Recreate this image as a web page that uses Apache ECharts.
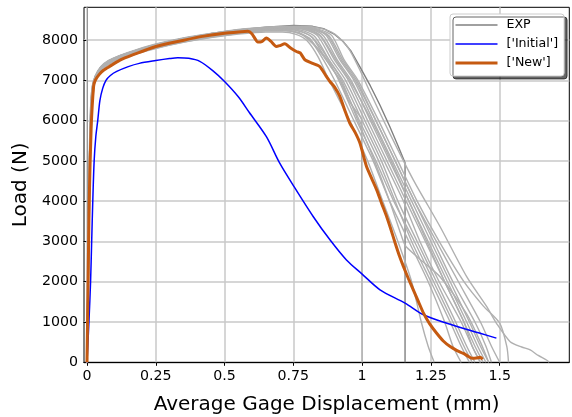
<!DOCTYPE html>
<html><head><meta charset="utf-8">
<script src="https://cdn.jsdelivr.net/npm/echarts@6/dist/echarts.min.js"></script>
<style>html,body{margin:0;padding:0;background:#fff}#c{width:572px;height:417px}</style>
</head><body><div id="c"></div>
<script>
// ---- tick labels ----
const xTicks = [0, 0.25, 0.5, 0.75, 1, 1.25, 1.5];
const yTicks = [0, 1000, 2000, 3000, 4000, 5000, 6000, 7000, 8000];
const legendNames = ['EXP', "['Initial']", "['New']"];
const xTitle = 'Average Gage Displacement (mm)';
const yTitle = 'Load (N)';

// ---- EXP curves [displacement (mm), load (N)] ----
const expDark = [[0,0],[0.004,2400],[0.009,4800],[0.014,6200],[0.02,6800],[0.03,7100],[0.05,7330],[0.08,7490],[0.12,7610],[0.18,7750],[0.25,7890],[0.35,8040],[0.45,8160],[0.55,8250],[0.65,8320],[0.75,8360],[0.82,8340],[0.86,8280],[0.90,8140],[0.93,7970],[0.96,7720],[0.99,7360],[1.03,6860],[1.065,6380],[1.10,5860],[1.13,5380],[1.156,4950],[1.156,0]];
const exp1 = [[0,0],[0.006,2500],[0.012,5000],[0.018,6300],[0.024,6750],[0.03,6980],[0.05,7230],[0.08,7400],[0.12,7520],[0.18,7660],[0.25,7790],[0.35,7940],[0.45,8060],[0.55,8150],[0.65,8200],[0.71,8200],[0.76,8140],[0.80,7980],[0.84,7580],[0.88,7000],[0.955,6000],[1.02,5000],[1.075,4000],[1.13,3000],[1.18,2000],[1.215,1000],[1.24,400],[1.262,0]];
const exp2 = [[0,0],[0.005,2500],[0.011,5000],[0.016,6300],[0.022,6800],[0.03,7020],[0.05,7260],[0.08,7420],[0.12,7540],[0.18,7680],[0.25,7810],[0.35,7960],[0.45,8080],[0.55,8170],[0.65,8230],[0.72,8230],[0.77,8170],[0.81,8020],[0.86,7500],[0.90,7000],[0.97,6000],[1.04,5000],[1.10,4000],[1.17,3000],[1.24,2000],[1.30,1000],[1.33,400],[1.36,0]];
const exp3 = [[0,0],[0.004,2500],[0.009,5000],[0.014,6300],[0.02,6800],[0.03,7060],[0.05,7290],[0.08,7450],[0.12,7570],[0.18,7710],[0.25,7850],[0.35,8000],[0.45,8110],[0.55,8200],[0.65,8255],[0.73,8260],[0.78,8200],[0.82,8050],[0.87,7500],[0.92,7000],[0.99,6000],[1.06,5000],[1.12,4000],[1.18,3000],[1.25,2000],[1.32,1000],[1.36,400],[1.39,0]];
const exp4 = [[0,0],[0.005,2500],[0.01,5000],[0.015,6300],[0.021,6820],[0.03,7070],[0.05,7300],[0.08,7460],[0.12,7580],[0.18,7720],[0.25,7860],[0.35,8010],[0.45,8120],[0.55,8210],[0.65,8270],[0.74,8280],[0.79,8220],[0.83,8070],[0.88,7500],[0.93,7000],[1.00,6000],[1.07,5000],[1.13,4000],[1.20,3000],[1.27,2000],[1.34,1000],[1.38,400],[1.41,0]];
const exp5 = [[0,0],[0.006,2500],[0.011,5000],[0.017,6300],[0.023,6780],[0.03,7000],[0.05,7250],[0.08,7420],[0.12,7540],[0.18,7690],[0.25,7820],[0.35,7970],[0.45,8090],[0.55,8180],[0.65,8240],[0.72,8250],[0.77,8190],[0.81,8040],[0.87,7500],[0.92,7000],[0.95,6500],[0.998,6050],[1.0,0]];
const exp6 = [[0,0],[0.004,2500],[0.009,5000],[0.013,6300],[0.019,6830],[0.03,7090],[0.05,7320],[0.08,7480],[0.12,7600],[0.18,7740],[0.25,7880],[0.35,8030],[0.45,8140],[0.55,8230],[0.65,8290],[0.75,8300],[0.80,8240],[0.84,8090],[0.89,7500],[0.94,7000],[1.01,6000],[1.08,5000],[1.15,4000],[1.21,3000],[1.28,2000],[1.36,1000],[1.40,400],[1.43,0]];
const exp7 = [[0,0],[0.005,2500],[0.01,5000],[0.016,6300],[0.022,6810],[0.03,7050],[0.05,7280],[0.08,7440],[0.12,7560],[0.18,7700],[0.25,7840],[0.35,7990],[0.45,8110],[0.55,8210],[0.65,8280],[0.75,8290],[0.81,8230],[0.85,8080],[0.90,7500],[0.95,7000],[1.02,6000],[1.09,5000],[1.16,4000],[1.23,3000],[1.30,2000],[1.37,1000],[1.41,400],[1.44,0]];
const exp8 = [[0,0],[0.004,2500],[0.008,5000],[0.013,6300],[0.019,6850],[0.03,7110],[0.05,7340],[0.08,7500],[0.12,7620],[0.18,7760],[0.25,7900],[0.35,8050],[0.45,8160],[0.55,8250],[0.65,8300],[0.76,8310],[0.82,8250],[0.86,8100],[0.91,7500],[0.96,7000],[1.03,6000],[1.10,5000],[1.17,4000],[1.24,3000],[1.31,2000],[1.38,1000],[1.42,400],[1.45,0]];
const exp9 = [[0,0],[0.005,2500],[0.01,5000],[0.015,6300],[0.021,6800],[0.03,7080],[0.05,7310],[0.08,7470],[0.12,7590],[0.18,7730],[0.25,7870],[0.35,8020],[0.45,8140],[0.55,8240],[0.65,8300],[0.77,8320],[0.83,8260],[0.87,8110],[0.92,7500],[0.97,7000],[1.04,6000],[1.11,5000],[1.18,4000],[1.25,3000],[1.32,2000],[1.39,1000],[1.43,400],[1.46,0]];
const exp10 = [[0,0],[0.006,2500],[0.012,5000],[0.017,6300],[0.023,6790],[0.03,7040],[0.05,7280],[0.08,7440],[0.12,7560],[0.18,7700],[0.25,7840],[0.35,7990],[0.45,8110],[0.55,8210],[0.65,8280],[0.77,8300],[0.83,8250],[0.88,8100],[0.93,7500],[0.98,7000],[1.05,6000],[1.12,5000],[1.19,4000],[1.26,3000],[1.33,2000],[1.41,1000],[1.45,400],[1.47,0]];
const exp11 = [[0,0],[0.005,2500],[0.01,5000],[0.015,6300],[0.021,6800],[0.03,7040],[0.05,7270],[0.08,7430],[0.12,7550],[0.18,7690],[0.25,7830],[0.35,7980],[0.45,8100],[0.55,8190],[0.65,8255],[0.73,8270],[0.78,8210],[0.82,8060],[0.88,7500],[0.925,7000],[0.985,6000],[1.045,5000],[1.10,4000],[1.15,3000],[1.16,2870],[1.22,2500],[1.283,2125],[1.38,1200],[1.43,500],[1.46,0]];
const exp12 = [[0,0],[0.004,2500],[0.009,5000],[0.014,6300],[0.02,6840],[0.03,7100],[0.05,7330],[0.08,7490],[0.12,7610],[0.18,7750],[0.25,7890],[0.35,8040],[0.45,8150],[0.55,8250],[0.65,8310],[0.78,8330],[0.84,8270],[0.89,8110],[0.935,7500],[0.985,7000],[1.06,6000],[1.13,5000],[1.20,4000],[1.28,3000],[1.37,2000],[1.44,1400],[1.50,970],[1.526,390],[1.532,0]];
const exp13 = [[0,0],[0.005,2500],[0.01,5000],[0.015,6300],[0.021,6830],[0.03,7090],[0.05,7320],[0.08,7480],[0.12,7600],[0.18,7740],[0.25,7880],[0.35,8040],[0.45,8160],[0.55,8260],[0.65,8320],[0.78,8340],[0.85,8290],[0.90,8150],[0.95,7800],[0.99,7280],[1.03,6690],[1.10,5690],[1.186,4530],[1.283,3370],[1.38,2125],[1.453,1380],[1.49,950],[1.538,512],[1.58,380],[1.611,306],[1.64,170],[1.67,57],[1.68,0]];
const exp14 = [[0,0],[0.006,2500],[0.011,5000],[0.016,6300],[0.022,6770],[0.03,7010],[0.05,7250],[0.08,7410],[0.12,7530],[0.18,7670],[0.25,7800],[0.35,7950],[0.45,8070],[0.55,8160],[0.65,8240],[0.71,8250],[0.76,8190],[0.80,8040],[0.875,7500],[0.915,7000],[0.98,6000],[1.05,5000],[1.115,4000],[1.19,3000],[1.26,2000],[1.33,1000],[1.37,400],[1.40,0]];
const exp15 = [[0,0],[0.004,2500],[0.009,5000],[0.014,6300],[0.02,6820],[0.03,7080],[0.05,7310],[0.08,7470],[0.12,7590],[0.18,7730],[0.25,7870],[0.35,8020],[0.45,8130],[0.55,8230],[0.65,8290],[0.75,8310],[0.81,8250],[0.85,8100],[0.905,7500],[0.955,7000],[1.035,6000],[1.105,5000],[1.17,4000],[1.235,3000],[1.30,2000],[1.37,1000],[1.40,400],[1.43,0]];
const exp16 = [[0,0],[0.005,2500],[0.01,5000],[0.015,6300],[0.021,6810],[0.03,7070],[0.05,7300],[0.08,7460],[0.12,7580],[0.18,7720],[0.25,7860],[0.35,8010],[0.45,8130],[0.55,8230],[0.65,8300],[0.77,8320],[0.83,8260],[0.875,8110],[0.925,7500],[0.975,7000],[1.05,6000],[1.12,5000],[1.19,4000],[1.27,3000],[1.35,2000],[1.43,1000],[1.47,400],[1.50,0]];
const expLight = [exp1, exp2, exp3, exp4, exp5, exp6, exp7, exp8, exp9, exp10, exp11, exp12, exp13, exp14, exp15, exp16];
const expWithDrop = [exp5];

// ---- simulations ----
const initialCurve = [[0,0],[0.007,1000],[0.013,2000],[0.017,3000],[0.021,4000],[0.026,5000],[0.032,5600],[0.039,6000],[0.047,6500],[0.057,6800],[0.069,7000],[0.085,7120],[0.108,7220],[0.15,7340],[0.19,7420],[0.25,7490],[0.30,7540],[0.33,7560],[0.37,7545],[0.41,7470],[0.457,7240],[0.50,6970],[0.55,6590],[0.59,6200],[0.652,5600],[0.70,4950],[0.749,4400],[0.822,3620],[0.883,3040],[0.943,2540],[1.0,2190],[1.065,1800],[1.156,1470],[1.223,1180],[1.308,970],[1.429,720],[1.488,600]];
const newCurve = [[0,0],[0.004,2000],[0.008,4000],[0.015,5800],[0.024,6850],[0.03,7000],[0.044,7140],[0.06,7250],[0.081,7340],[0.12,7500],[0.166,7630],[0.25,7840],[0.348,7990],[0.42,8090],[0.50,8170],[0.55,8200],[0.585,8215],[0.60,8150],[0.621,7950],[0.635,7960],[0.652,8050],[0.668,7970],[0.688,7840],[0.70,7860],[0.719,7905],[0.74,7800],[0.761,7715],[0.775,7680],[0.792,7510],[0.82,7420],[0.846,7340],[0.865,7150],[0.883,6970],[0.90,6830],[0.919,6600],[0.94,6200],[0.955,5940],[0.975,5700],[0.992,5440],[1.016,4860],[1.035,4560],[1.053,4280],[1.07,3960],[1.089,3620],[1.105,3290],[1.12,2960],[1.135,2650],[1.15,2380],[1.168,2080],[1.186,1800],[1.205,1500],[1.223,1220],[1.245,960],[1.271,720],[1.295,530],[1.32,390],[1.345,290],[1.368,220],[1.385,150],[1.399,100],[1.415,105],[1.429,125],[1.438,75]];

const FONT = 'DejaVu Sans';
const chart = echarts.init(document.getElementById('c'), null, {renderer: 'canvas'});

const series = [];
series.push({
  type: 'line', name: legendNames[0], data: expDark, symbol: 'none', z: 2,
  lineStyle: {color: '#808080', width: 1.4}, itemStyle: {color: '#808080'},
  markLine: {
    silent: true, symbol: 'none', z: 1, animation: false,
    label: {show: false},
    lineStyle: {color: '#c8c8c8', width: 1.5, type: 'solid'},
    data: xTicks.map(v => ({xAxis: v}))
  }
});
expLight.forEach(d => series.push({
  type: 'line', name: legendNames[0], data: d, symbol: 'none', z: 2,
  smooth: expWithDrop.includes(d) ? false : 0.25,
  lineStyle: {color: '#b0b0b0', width: 1.4}, itemStyle: {color: '#808080'}
}));
series.push({
  type: 'line', name: legendNames[1], data: initialCurve, symbol: 'none', z: 3, smooth: 0.3,
  lineStyle: {color: '#0000ff', width: 1.5}, itemStyle: {color: '#0000ff'}
});
series.push({
  type: 'line', name: legendNames[2], data: newCurve, symbol: 'none', z: 4, smooth: 0.2,
  lineStyle: {color: '#c55a11', width: 3}, itemStyle: {color: '#c55a11'}
});

chart.setOption({
  animation: false,
  backgroundColor: '#fff',
  grid: {left: 84, right: 2.7, top: 7.3, bottom: 54.7, show: true, borderColor: '#000', borderWidth: 1,
         containLabel: false, outerBoundsMode: 'none'},
  legend: {
    orient: 'vertical', left: 450, top: 14, padding: [4, 6, 6, 4],
    itemWidth: 42, itemHeight: 14, itemGap: 5,
    backgroundColor: '#fff', borderColor: '#cccccc', borderWidth: 1, borderRadius: 3,
    shadowColor: 'rgba(0,0,0,0.6)', shadowOffsetX: 3, shadowOffsetY: 3, shadowBlur: 0,
    textStyle: {fontFamily: FONT, fontSize: 12.6, color: '#000', lineHeight: 14, padding: [0, 0, 0, 4]},
    data: [
      {name: legendNames[0], itemStyle: {opacity: 0}, lineStyle: {color: '#808080', width: 1.5}},
      {name: legendNames[1], itemStyle: {opacity: 0}, lineStyle: {color: '#0000ff', width: 1.5}},
      {name: legendNames[2], itemStyle: {opacity: 0}, lineStyle: {color: '#c55a11', width: 3}}
    ]
  },
  xAxis: {
    type: 'value', min: -0.0109, max: 1.753,
    name: xTitle, nameLocation: 'middle', nameGap: 32,
    nameTextStyle: {fontFamily: FONT, fontSize: 20, color: '#000'},
    axisLine: {show: true, lineStyle: {color: '#000', width: 1}},
    axisTick: {show: true, customValues: xTicks, length: 3.5, lineStyle: {color: '#000', width: 1}},
    axisLabel: {customValues: xTicks, formatter: v => String(v), fontFamily: FONT, fontSize: 14.2, color: '#000', margin: 7},
    splitLine: {show: false}
  },
  yAxis: {
    type: 'value', min: 0, max: 8812, interval: 1000,
    name: yTitle, nameLocation: 'middle', nameGap: 46, nameRotate: 90,
    nameTextStyle: {fontFamily: FONT, fontSize: 20, color: '#000'},
    axisLine: {show: true, lineStyle: {color: '#000', width: 1}},
    axisTick: {show: true, customValues: yTicks, length: 3.5, lineStyle: {color: '#000', width: 1}},
    axisLabel: {customValues: yTicks, formatter: v => String(v), fontFamily: FONT, fontSize: 14.2, color: '#000', margin: 6},
    splitLine: {show: true, lineStyle: {color: '#c8c8c8', width: 1.5}}
  },
  series: series
});
</script></body></html>
